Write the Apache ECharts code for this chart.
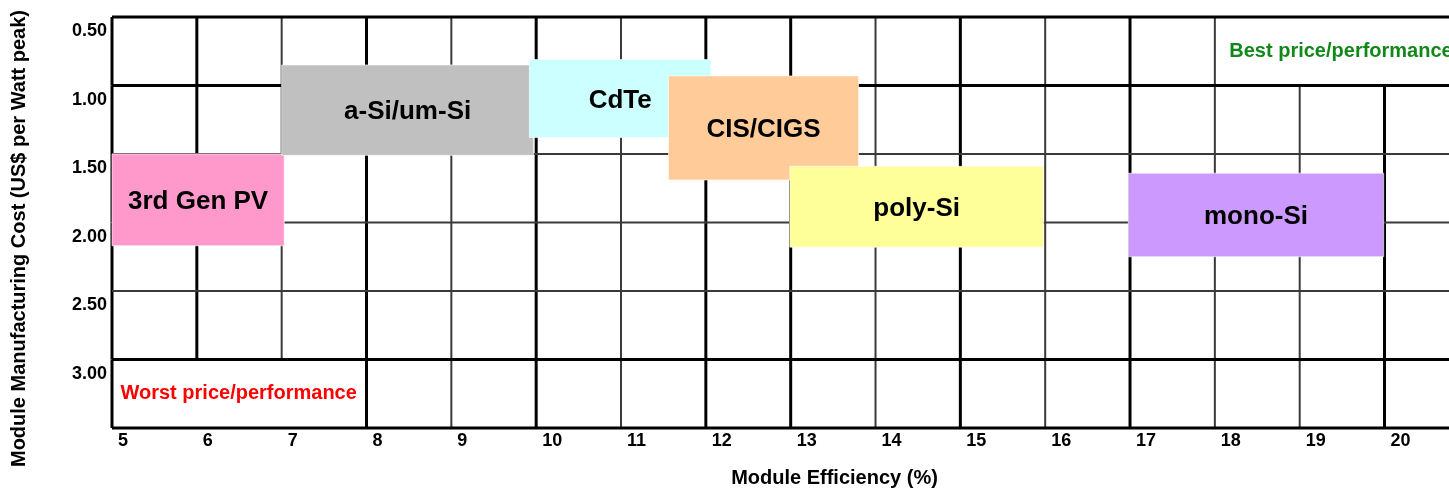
<!DOCTYPE html>
<html>
<head>
<meta charset="utf-8">
<script src="https://cdn.jsdelivr.net/npm/echarts@6/dist/echarts.min.js"></script>
<style>
html,body{margin:0;padding:0;background:#fff;}
#chart{width:1449px;height:491px;}
</style>
</head>
<body>
<div id="chart"></div>
<script>
// ---- data ----
const techNames = ['3rd Gen PV', 'a-Si/um-Si', 'CdTe', 'CIS/CIGS', 'poly-Si', 'mono-Si'];
const effLow  = [5.0, 7.0, 9.92, 11.56, 12.99, 16.98];   // module efficiency (%) range start
const effHigh = [7.03, 9.97, 12.06, 13.80, 15.98, 19.99]; // range end
const costLow  = [1.50, 0.85, 0.81, 0.93, 1.59, 1.64];   // US$/Wp range (top)
const costHigh = [2.17, 1.51, 1.38, 1.69, 2.18, 2.25];   // range (bottom)

const gridCols = [5, 6, 7, 8, 9, 10, 11, 12, 13, 14, 15, 16, 17, 18, 19, 20];
const gridRows = [0.5, 1.0, 1.5, 2.0, 2.5, 3.0, 3.5];
const effAxisMax = 20.76;

const noteTexts = ['Best price/performance', 'Worst price/performance'];
const noteEff = [18.17, 5.1];
const noteCost = [0.75, 3.245];

// merged (borderless) cells: [effFrom, effTo, costFrom, costTo]
const mergedCells = [[18, effAxisMax, 0.5, 1.0], [5, 8, 3.0, 3.5]];

// ---- style ----
const boxColors = ['#FF99CC', '#C0C0C0', '#CCFFFF', '#FFCC99', '#FFFF99', '#CC99FF'];
const noteColors = ['#13881a', '#FF0000'];
const heavyCols = [5, 6, 8, 10, 12, 13, 15, 17, 20];
const heavyRows = [0.5, 1.0, 3.0, 3.5];
const FONT = '"Liberation Sans", Arial, sans-serif';

// ---- build grid segments ----
const segments = [];
gridCols.forEach(function (x) {
  for (let i = 0; i < gridRows.length - 1; i++) {
    const y0 = gridRows[i], y1 = gridRows[i + 1];
    const hidden = mergedCells.some(function (m) {
      return x > m[0] && x < m[1] && y0 >= m[2] && y1 <= m[3];
    });
    if (!hidden) segments.push([x, y0, x, y1, heavyCols.indexOf(x) >= 0 ? 1 : 0]);
  }
});
gridRows.forEach(function (y) {
  segments.push([gridCols[0], y, effAxisMax, y, heavyRows.indexOf(y) >= 0 ? 1 : 0]);
});

const boxData = techNames.map(function (n, i) {
  return [effLow[i], costLow[i], effHigh[i], costHigh[i], i];
});
const noteData = noteTexts.map(function (t, i) { return [noteEff[i], noteCost[i], i]; });

const chart = echarts.init(document.getElementById('chart'));
chart.setOption({
  animation: false,
  grid: { left: 112, right: 0, top: 17, bottom: 63, containLabel: false, outerBoundsMode: 'none' },
  xAxis: {
    type: 'value', min: 5, max: effAxisMax, interval: 1,
    name: 'Module Efficiency (%)', nameLocation: 'middle', nameGap: 40,
    nameTextStyle: { fontFamily: FONT, fontWeight: 'bold', fontSize: 20, color: '#000', padding: [0, 0, 0, 108] },
    axisLine: { show: false }, axisTick: { show: false }, splitLine: { show: false },
    axisLabel: {
      showMaxLabel: false, align: 'left', margin: 0, lineHeight: 26,
      padding: [0, 0, 0, 6],
      fontFamily: FONT, fontWeight: 'bold', fontSize: 18, color: '#000'
    }
  },
  yAxis: {
    type: 'value', min: 0.5, max: 3.5, interval: 0.5, inverse: true,
    name: 'Module Manufacturing Cost (US$ per Watt peak)', nameLocation: 'middle', nameGap: 83,
    nameTextStyle: { fontFamily: FONT, fontWeight: 'bold', fontSize: 20, color: '#000', padding: [0, 32, 0, 0] },
    axisLine: { show: false }, axisTick: { show: false }, splitLine: { show: false },
    axisLabel: {
      showMaxLabel: false, verticalAlign: 'top', lineHeight: 29, margin: 5,
      fontFamily: FONT, fontWeight: 'bold', fontSize: 18, color: '#000',
      formatter: function (v) { return v.toFixed(2); }
    }
  },
  series: [
    {
      type: 'custom', name: 'grid', silent: true, clip: false, z: 1,
      data: segments,
      renderItem: function (params, api) {
        const p0 = api.coord([api.value(0), api.value(1)]);
        const p1 = api.coord([api.value(2), api.value(3)]);
        const heavy = api.value(4) === 1;
        return {
          type: 'line',
          shape: { x1: p0[0], y1: p0[1], x2: p1[0], y2: p1[1] },
          style: { stroke: heavy ? '#000' : '#3a3a3a', lineWidth: heavy ? 3 : 2 }
        };
      }
    },
    {
      type: 'custom', name: 'technologies', silent: true, clip: false, z: 2,
      data: boxData,
      renderItem: function (params, api) {
        const p0 = api.coord([api.value(0), api.value(1)]);
        const p1 = api.coord([api.value(2), api.value(3)]);
        const i = api.value(4);
        return {
          type: 'rect',
          z2: i,
          shape: { x: p0[0], y: p0[1], width: p1[0] - p0[0], height: p1[1] - p0[1] },
          style: { fill: boxColors[i], stroke: 'rgba(255,255,255,0.6)', lineWidth: 1 },
          textContent: {
            type: 'text',
            style: { text: techNames[i], fill: '#000', font: 'bold 26px ' + FONT }
          },
          textConfig: { position: 'inside', offset: [0, 2] }
        };
      }
    },
    {
      type: 'custom', name: 'notes', silent: true, clip: false, z: 3,
      data: noteData,
      renderItem: function (params, api) {
        const p = api.coord([api.value(0), api.value(1)]);
        const i = api.value(2);
        return {
          type: 'text',
          style: {
            x: p[0], y: p[1], text: noteTexts[i], fill: noteColors[i],
            font: 'bold 20px ' + FONT, align: 'left', verticalAlign: 'middle'
          }
        };
      }
    }
  ]
});
</script>
</body>
</html>
